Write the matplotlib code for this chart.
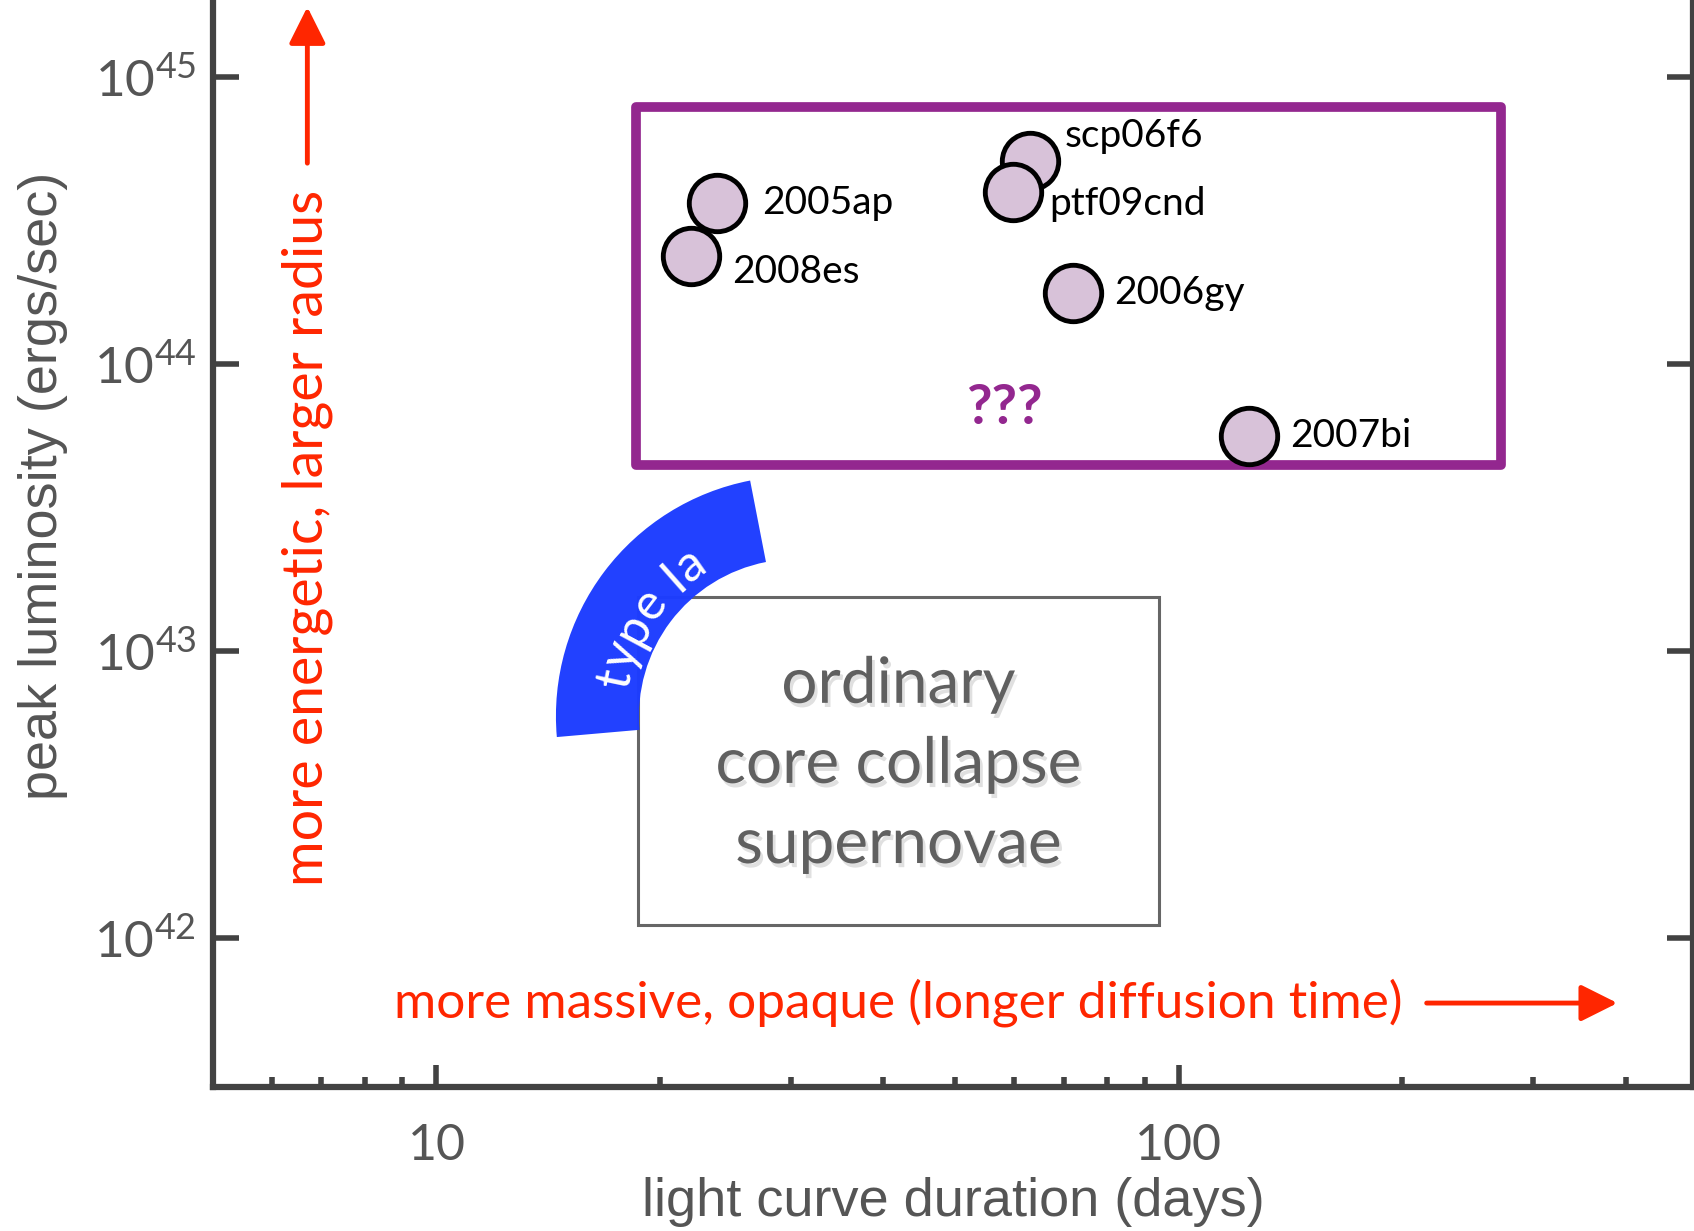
import numpy as np
import matplotlib
matplotlib.use('Agg')
import matplotlib.pyplot as plt
import matplotlib.transforms as mtransforms
import matplotlib.patheffects as pe
from matplotlib.patches import Rectangle, Wedge
from matplotlib.ticker import LogLocator, NullFormatter, NullLocator
from matplotlib.textpath import TextToPath
from matplotlib.font_manager import FontProperties

plt.rcParams['font.family'] = ['Lato', 'DejaVu Sans']
plt.rcParams['mathtext.fontset'] = 'custom'
plt.rcParams['mathtext.rm'] = 'Liberation Sans'

# superluminous supernovae: light curve duration (days) vs peak luminosity (erg/s)
names = ['2005ap', '2008es', 'scp06f6', 'ptf09cnd', '2006gy', '2007bi']
duration = [23.9, 22.0, 63.0, 59.8, 72.0, 124.5]
peak_lum = [3.64e44, 2.37e44, 5.08e44, 3.98e44, 1.77e44, 5.6e43]

# label offsets (points) from each marker
label_dx = [32, 30, 25, 26, 30, 29]
label_dy = [0, -11, 18, -9, 0, 0]

# regions: (x0, x1, y0, y1)
slsn_box = (18.6, 271.5, 4.45e43, 7.85e44)
cc_box = (18.7, 94.0, 1.11e42, 1.54e43)
cc_text = (41.9, 4.01e42)
qq_pos = (58.2, 7.03e43)
ia_center = (30.5, 5.93e42)

x_ticks = [10, 100]
y_ticks = [1e42, 1e43, 1e44, 1e45]

red = '#ff2600'
purple = '#93278f'
blue = '#1d3dff'
grey = '#555555'

fig = plt.figure(figsize=(16.94, 12.31), dpi=100)
ax = fig.add_axes([213 / 1694, 1 - 1087 / 1231, 1480 / 1694, 1087 / 1231])
ax.set_xscale('log')
ax.set_yscale('log')
ax.set_xlim(5, 493)
ax.set_ylim(3.03e41, 1.85e45)

ax.spines['top'].set_visible(False)
for s in ['left', 'right', 'bottom']:
    ax.spines[s].set_linewidth(4.5)
    ax.spines[s].set_color('#424242')

ax.set_xticks(x_ticks)
ax.set_xticklabels([str(t) for t in x_ticks])
ax.xaxis.set_minor_locator(LogLocator(base=10, subs=np.arange(2, 10)))
ax.xaxis.set_minor_formatter(NullFormatter())
ax.set_yticks(y_ticks)
ax.set_yticklabels([r'$\mathregular{10^{%d}}$' % int(np.log10(t)) for t in y_ticks])
ax.yaxis.set_minor_locator(NullLocator())

ax.tick_params(axis='y', which='major', direction='in', length=19, width=4,
               left=True, right=True, color='#424242', labelcolor=grey,
               labelsize=37, pad=12)
ax.tick_params(axis='x', which='major', direction='in', length=16, width=4,
               top=False, color='#424242', labelcolor=grey, labelsize=36, pad=26)
ax.tick_params(axis='x', which='minor', direction='in', length=7, width=4,
               top=False, color='#424242')

ax.set_xlabel('light curve duration (days)', fontsize=39, color=grey,
              family='Liberation Sans')
ax.set_ylabel('peak luminosity (ergs/sec)', fontsize=39, color=grey,
              family='Liberation Sans')
ax.xaxis.set_label_coords(0.5, -0.083)
ax.yaxis.set_label_coords(-0.098, 0.553)

# ordinary core collapse box
ax.add_patch(Rectangle((cc_box[0], cc_box[2]), cc_box[1] - cc_box[0],
                       cc_box[3] - cc_box[2], fill=False, edgecolor='#666666',
                       lw=2.2, zorder=2))
ax.text(cc_text[0], cc_text[1], 'ordinary\ncore collapse\nsupernovae',
        ha='center', va='center', fontsize=46, color='#606060', linespacing=1.47,
        path_effects=[pe.withSimplePatchShadow(offset=(2, -3),
                                               shadow_rgbFace='#999999', alpha=0.3)])

# type Ia band
trans = fig.dpi_scale_trans + mtransforms.ScaledTranslation(ia_center[0], ia_center[1],
                                                            ax.transData)
ax.add_patch(Wedge((0, 0), 2.40, 101, 185, width=0.83, transform=trans,
                   facecolor=blue, edgecolor='none', alpha=0.98, zorder=3))

label = 'type Ia'
fp = FontProperties(family='Lato', size=36)
ttp = TextToPath()
bar_w = ttp.get_text_width_height_descent('|', fp, ismath=False)[0]
prefix = [ttp.get_text_width_height_descent(label[:i] + '|', fp, ismath=False)[0] - bar_w
          for i in range(len(label) + 1)]
total = prefix[-1] / 72
r_base = 1.70
mid_angle = 146.0
for i, ch in enumerate(label):
    s = (prefix[i] + prefix[i + 1]) / 2 / 72
    ang = mid_angle + np.degrees((total / 2 - s) / r_base)
    a = np.radians(ang)
    ax.text(r_base * np.cos(a), r_base * np.sin(a), ch, transform=trans,
            rotation=ang - 90, rotation_mode='anchor', ha='center', va='baseline',
            fontproperties=fp, color='white', zorder=4)

# superluminous region
ax.add_patch(Rectangle((slsn_box[0], slsn_box[2]), slsn_box[1] - slsn_box[0],
                       slsn_box[3] - slsn_box[2], fill=False, edgecolor=purple,
                       lw=7, joinstyle='round', zorder=4))
ax.scatter(duration, peak_lum, s=1650, c='#d8c2d9', edgecolors='black',
           linewidths=3.5, zorder=5)
for n, x, y, dx, dy in zip(names, duration, peak_lum, label_dx, label_dy):
    ax.annotate(n, (x, y), xytext=(dx, dy), textcoords='offset points',
                ha='left', va='center', fontsize=28, color='black', zorder=6)
ax.text(qq_pos[0], qq_pos[1], '???', ha='center', va='center', fontsize=40,
        fontweight='bold', color=purple)

# direction hints
ax.text(6.70, 2.48e43, 'more energetic, larger radius', rotation=90,
        ha='center', va='center', fontsize=40, color=red)
ax.annotate('', xy=(6.70, 1.75e45), xytext=(6.70, 5.0e44),
            arrowprops=dict(arrowstyle='-|>,head_length=0.4,head_width=0.2',
                            color=red, lw=3.5, mutation_scale=56,
                            shrinkA=0, shrinkB=0))
ax.text(41.9, 5.94e41, 'more massive, opaque (longer diffusion time)',
        ha='center', va='center', fontsize=37, color=red)
ax.annotate('', xy=(390, 5.94e41), xytext=(215.8, 5.94e41),
            arrowprops=dict(arrowstyle='-|>,head_length=0.4,head_width=0.2',
                            color=red, lw=3.5, mutation_scale=56,
                            shrinkA=0, shrinkB=0))

fig.savefig('out.png', dpi=100)
